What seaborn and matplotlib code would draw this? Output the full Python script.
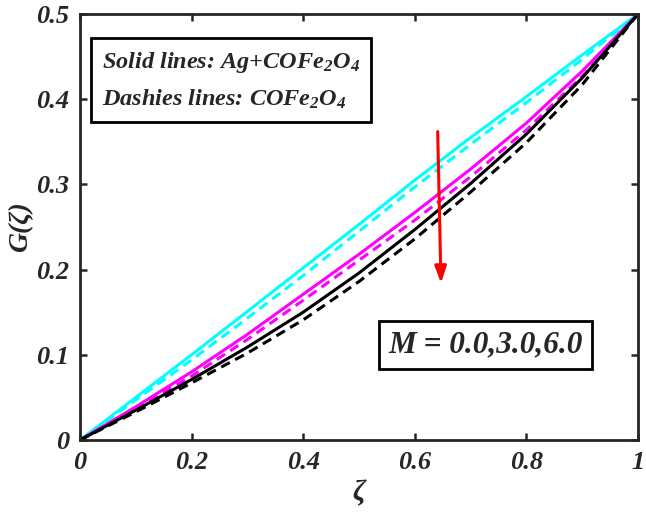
import numpy as np
import pandas as pd
import seaborn as sns
import matplotlib
matplotlib.use("Agg")
import matplotlib.pyplot as plt

zeta = [0.0, 0.1, 0.2, 0.3, 0.4, 0.5, 0.6, 0.7, 0.8, 0.9, 1.0]
cyan_solid = [0, 0.050, 0.100, 0.151, 0.202, 0.253, 0.305, 0.355, 0.403, 0.452, 0.5]
cyan_dash = [0, 0.047, 0.094, 0.143, 0.193, 0.245, 0.297, 0.347, 0.396, 0.447, 0.5]
mag_solid = [0, 0.039, 0.080, 0.124, 0.171, 0.218, 0.267, 0.318, 0.372, 0.433, 0.5]
mag_dash = [0, 0.037, 0.075, 0.118, 0.164, 0.211, 0.258, 0.309, 0.364, 0.427, 0.5]
blk_solid = [0, 0.035, 0.071, 0.109, 0.150, 0.196, 0.247, 0.301, 0.359, 0.425, 0.5]
blk_dash = [0, 0.033, 0.067, 0.102, 0.141, 0.186, 0.236, 0.291, 0.349, 0.417, 0.5]

series = {
    ("M0", "Ag+COFe2O4"): cyan_solid,
    ("M0", "COFe2O4"): cyan_dash,
    ("M3", "Ag+COFe2O4"): mag_solid,
    ("M3", "COFe2O4"): mag_dash,
    ("M6", "Ag+COFe2O4"): blk_solid,
    ("M6", "COFe2O4"): blk_dash,
}
rows = []
for (m, fl), vals in series.items():
    for x, y in zip(zeta, vals):
        rows.append({"zeta": x, "G": y, "M": m, "fluid": fl})
df = pd.DataFrame(rows)

sns.set_style("ticks")
plt.rcParams["font.family"] = ["Liberation Serif", "DejaVu Serif"]
plt.rcParams["mathtext.fontset"] = "custom"
plt.rcParams["mathtext.rm"] = "Liberation Serif:bold:italic"
plt.rcParams["mathtext.it"] = "Liberation Serif:bold:italic"
plt.rcParams["mathtext.bf"] = "Liberation Serif:bold:italic"

fig = plt.figure(figsize=(6.46, 5.16), dpi=100)
ax = fig.add_axes([80 / 646, 1 - 440 / 516, 558 / 646, 426 / 516])

palette = {"M0": "#00FFFF", "M3": "#FF00FF", "M6": "#000000"}
sns.lineplot(data=df, x="zeta", y="G", hue="M", style="fluid", palette=palette,
             dashes={"Ag+COFe2O4": "", "COFe2O4": (3.2, 2.0)}, linewidth=2.2,
             legend=False, ax=ax, sort=False)

ax.set_xlim(0, 1)
ax.set_ylim(0, 0.5)
ax.set_xticks([0, 0.2, 0.4, 0.6, 0.8, 1.0])
ax.set_xticklabels(["0", "0.2", "0.4", "0.6", "0.8", "1"])
ax.set_yticks([0, 0.1, 0.2, 0.3, 0.4, 0.5])
ax.set_yticklabels(["0", "0.1", "0.2", "0.3", "0.4", "0.5"])
for lab in ax.get_xticklabels() + ax.get_yticklabels():
    lab.set_fontsize(19)
    lab.set_fontweight("bold")
    lab.set_fontstyle("italic")
ax.tick_params(direction="in", length=5, width=1.8, top=True, right=True, pad=8)
for s in ax.spines.values():
    s.set_linewidth(2.0)
    s.set_visible(True)

ax.set_xlabel("ζ", fontsize=21, fontweight="bold", fontstyle="italic", labelpad=4)
ax.set_ylabel("G(ζ)", fontsize=20, fontweight="bold", fontstyle="italic", labelpad=2)

# text box 1
ax.text(0.04, 0.915, "Solid lines: Ag+COFe$_2$O$_4$\nDashies lines: COFe$_2$O$_4$",
        transform=ax.transAxes, fontsize=17.5, fontweight="bold", fontstyle="italic",
        va="top", ha="left", linespacing=1.7,
        bbox=dict(boxstyle="square,pad=0.45", fc="white", ec="black", lw=2))

ax.text(0.553, 0.223, "M = 0.0,3.0,6.0", transform=ax.transAxes, fontsize=22.5,
        fontweight="bold", fontstyle="italic", va="center", ha="left",
        bbox=dict(boxstyle="square,pad=0.3", fc="white", ec="black", lw=2))

ax.annotate("", xy=(0.647, 0.184), xytext=(0.641, 0.362),
            arrowprops=dict(arrowstyle="-|>,head_width=0.35,head_length=1.0",
                            color="red", lw=2.2, shrinkA=0, shrinkB=0))

fig.savefig("out.png", dpi=100)
